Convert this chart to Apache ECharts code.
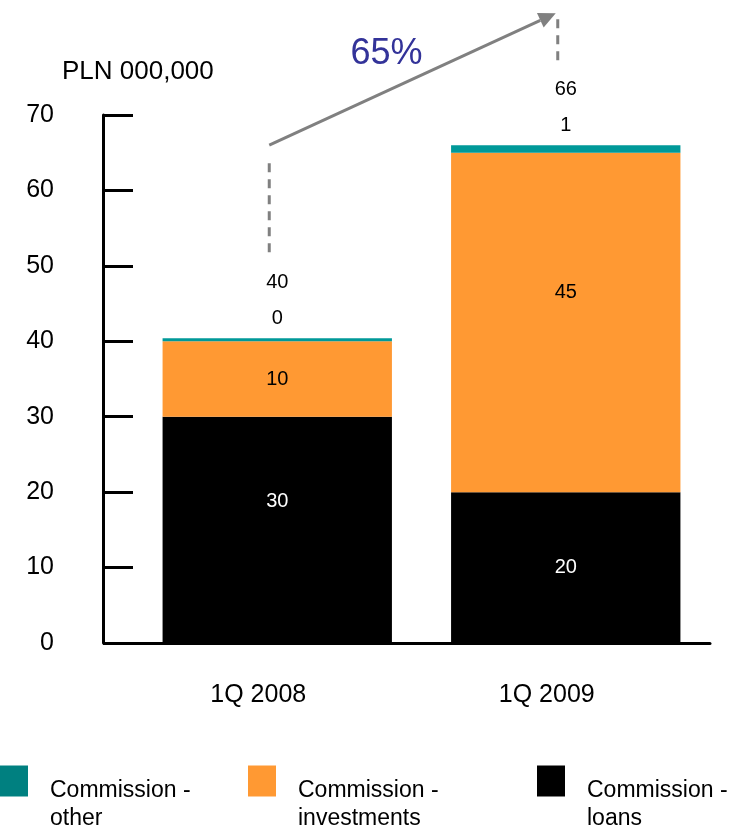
<!DOCTYPE html>
<html>
<head>
<meta charset="utf-8">
<style>
  html, body { margin: 0; padding: 0; background: #ffffff; }
  #chart { width: 731px; height: 832px; }
</style>
<script src="https://cdn.jsdelivr.net/npm/echarts@6/dist/echarts.min.js"></script>
</head>
<body>
<div id="chart"></div>
<script>
// Commission income by type, PLN 000,000
const categories = ['1Q 2008', '1Q 2009'];
const loans = [30, 20];
const investments = [10, 45];
const other = [0.4, 1];
const yTicks = [0, 10, 20, 30, 40, 50, 60, 70];
const growthLabel = '65%';
const unitLabel = 'PLN 000,000';

// per-bar label nudges (pixels)
const loansLabelShift = [[0, -28], [0, 0]];
const investLabelShift = [[0, 0], [0, -30]];

const totals = categories.map((_, i) => loans[i] + investments[i] + other[i]);

const FONT = '"Liberation Sans", Arial, sans-serif';
const COL_OTHER = '#009999';
const COL_OTHER_KEY = '#008080';
const COL_INV = '#FF9933';
const COL_LOANS = '#000000';
const GREY = '#808080';

const chart = echarts.init(document.getElementById('chart'), null, { renderer: 'canvas' });

function legendBlock(name, color, left) {
  return {
    show: true,
    left: left,
    top: 748,
    padding: 0,
    orient: 'horizontal',
    icon: 'rect',
    itemWidth: 28,
    itemHeight: 31,
    selectedMode: false,
    data: [{ name: name, itemStyle: { color: color } }],
    formatter: function (n) {
      const parts = n.split(' - ');
      return '{gap| }\n{t|' + parts[0] + ' -}\n{t|' + parts[1] + '}';
    },
    textStyle: {
      fontFamily: FONT, fontSize: 23, color: '#000',
      padding: [0, 0, 0, 17],
      rich: {
        gap: { lineHeight: 48, fontSize: 10 },
        t: { fontFamily: FONT, fontSize: 23, color: '#000', lineHeight: 28 }
      }
    }
  };
}

const roundFmt = p => String(Math.round(p.value));

const option = {
  animation: false,
  backgroundColor: '#ffffff',
  textStyle: { fontFamily: FONT },
  title: {
    text: unitLabel,
    left: 62, top: 59, padding: 0,
    textStyle: { fontFamily: FONT, fontSize: 26, fontWeight: 'normal', color: '#000' }
  },
  legend: [
    legendBlock('Commission - other', COL_OTHER_KEY, 0),
    legendBlock('Commission - investments', COL_INV, 248),
    legendBlock('Commission - loans', COL_LOANS, 537)
  ],
  grid: { left: 133, right: 21, top: 115, bottom: 189, containLabel: false },
  xAxis: {
    type: 'category',
    data: categories,
    boundaryGap: true,
    axisLine: { show: true, lineStyle: { color: '#000', width: 3 } },
    axisTick: { show: false },
    axisLabel: {
      fontFamily: FONT, fontSize: 25, color: '#000', margin: 40,
      padding: [0, 38, 0, 0]
    },
    splitLine: { show: false }
  },
  yAxis: {
    type: 'value',
    min: yTicks[0],
    max: yTicks[yTicks.length - 1],
    interval: yTicks[1] - yTicks[0],
    offset: 30,
    axisLine: { show: true, lineStyle: { color: '#000', width: 3 } },
    axisTick: { show: true, inside: true, length: 30, lineStyle: { color: '#000', width: 3 } },
    axisLabel: { fontFamily: FONT, fontSize: 25, color: '#000', margin: 49 },
    splitLine: { show: false }
  },
  series: [
    {
      name: 'Commission - loans', type: 'bar', stack: 'c',
      data: loans.map((v, i) => ({ value: v, label: { offset: loansLabelShift[i] } })),
      barWidth: '79.5%',
      itemStyle: { color: COL_LOANS },
      label: { show: true, position: 'inside', formatter: roundFmt,
               fontFamily: FONT, fontSize: 20, color: '#ffffff' }
    },
    {
      name: 'Commission - investments', type: 'bar', stack: 'c',
      data: investments.map((v, i) => ({ value: v, label: { offset: investLabelShift[i] } })),
      itemStyle: { color: COL_INV },
      label: { show: true, position: 'inside', formatter: roundFmt,
               fontFamily: FONT, fontSize: 20, color: '#000' }
    },
    {
      name: 'Commission - other', type: 'bar', stack: 'c', data: other,
      itemStyle: { color: COL_OTHER },
      label: { show: true, position: 'top', distance: 10, formatter: roundFmt,
               fontFamily: FONT, fontSize: 20, color: '#000' }
    },
    {
      name: 'Total', type: 'scatter', data: totals.map((t, i) => [i, t]),
      symbolSize: 0, silent: true,
      itemStyle: { opacity: 1, color: '#000' },
      label: { show: true, position: 'top', distance: 46,
               formatter: p => String(Math.round(p.value[1])),
               fontFamily: FONT, fontSize: 20, color: '#000' }
    }
  ]
};

chart.setOption(option);

// Growth arrow, dashed leaders and boundary ticks, positioned from the axis scales
function px(cat, val) { return chart.convertToPixel({ xAxisIndex: 0, yAxisIndex: 0 }, [cat, val]); }

const start = px(0, totals[1]);
const end = px(1, 83.5);
const sx = start[0] - 8, sy = start[1];
const ex = end[0] - 10, ey = end[1];
const top0 = px(0, totals[0])[1];
const top1 = px(1, totals[1])[1];

const ang = Math.atan2(ey - sy, ex - sx);
const headLen = 17, headHalf = 8;
const bx = ex - headLen * Math.cos(ang), by = ey - headLen * Math.sin(ang);
const nx = -Math.sin(ang), ny = Math.cos(ang);

const dash = { stroke: GREY, lineWidth: 3, lineDash: [9, 7] };

const elements = [
  { type: 'line', shape: { x1: sx, y1: top0 - 86, x2: sx, y2: sy + 14 }, style: dash, silent: true },
  { type: 'line', shape: { x1: ex + 2, y1: ey + 6, x2: ex + 2, y2: top1 - 80 }, style: dash, silent: true },
  { type: 'line', shape: { x1: sx, y1: sy, x2: bx, y2: by },
    style: { stroke: GREY, lineWidth: 3 }, silent: true },
  { type: 'polygon',
    shape: { points: [[ex, ey], [bx + nx * headHalf, by + ny * headHalf], [bx - nx * headHalf, by - ny * headHalf]] },
    style: { fill: GREY }, silent: true },
  { type: 'text', x: (sx + ex) / 2 - 26, y: (sy + ey) / 2 - 25,
    style: { text: growthLabel, fill: '#333399', font: '36px ' + FONT,
             textAlign: 'center', textVerticalAlign: 'middle' }, silent: true }
];

// x-axis boundary ticks between and after the categories
[0.5, 1.5].forEach(v => {
  const p = px(v, 0);
  elements.push({
    type: 'line', shape: { x1: p[0], y1: p[1], x2: p[0], y2: p[1] - 30 },
    style: { stroke: '#000', lineWidth: 3 }, silent: true
  });
});

chart.setOption({ graphic: { elements: elements } });
</script>
</body>
</html>
